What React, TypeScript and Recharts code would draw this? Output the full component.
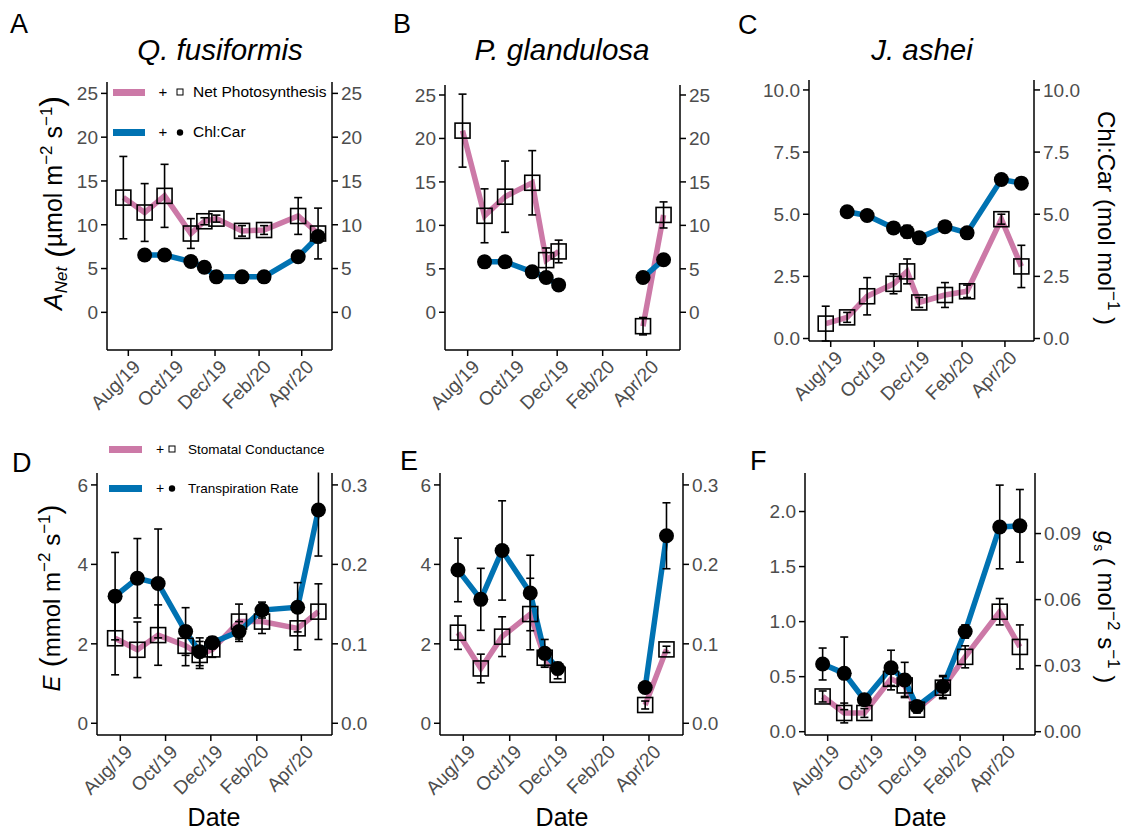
import * as React from 'react';
import { ComposedChart, Line, Scatter, XAxis, YAxis, ErrorBar } from 'recharts';

// sampling campaigns
const sampleDates = [
    '2019-07-25', '2019-08-24', '2019-09-21', '2019-10-28', '2019-11-16',
    '2019-12-03', '2020-01-08', '2020-02-08', '2020-03-27', '2020-04-24'
];
const tickDates = ['2019-08-01', '2019-10-01', '2019-12-01', '2020-02-01', '2020-04-01'];
const tickLabels = ['Aug/19', 'Oct/19', 'Dec/19', 'Feb/20', 'Apr/20'];

// Q. fusiformis
const qfAnet = [13.1, 11.4, 13.3, 9.0, 10.4, 10.7, 9.3, 9.4, 11.0, 9.0];
const qfAnetSe = [4.7, 3.3, 3.6, 1.7, 0.4, 0.4, 0.6, 0.5, 2.1, 2.9];
const qfChl = [null, 6.55, 6.55, 5.8, 5.15, 4.05, 4.05, 4.05, 6.35, 8.65];
const qfChlSe = [null, 0.2, 0.2, 0.2, 0.2, 0.2, 0.2, 0.2, 0.2, 0.2];
const qfE = [3.2, 3.65, 3.52, 2.31, 1.8, 2.03, 2.31, 2.85, 2.92, 5.37];
const qfESe = [1.1, 1.0, 1.37, 0.6, 0.35, 0.15, 0.25, 0.2, 0.62, 1.16];
const qfGs = [0.107, 0.0925, 0.111, 0.0975, 0.086, 0.093, 0.128, 0.128, 0.1195, 0.1405];
const qfGsSe = [0.046, 0.035, 0.038, 0.025, 0.017, 0.01, 0.022, 0.015, 0.027, 0.035];

// P. glandulosa (leafless in Jan/Feb)
const pgAnet = [20.9, 11.1, 13.3, 14.9, 6.0, 7.0, null, null, -1.6, 11.2];
const pgAnetSe = [4.2, 3.1, 4.1, 3.7, 1.4, 1.3, null, null, 1.0, 1.5];
const pgChl = [null, 5.8, 5.8, 4.65, 4.0, 3.15, null, null, 4.0, 6.05];
const pgChlSe = [null, 0.2, 0.2, 0.2, 0.2, 0.2, null, null, 0.2, 0.2];
const pgE = [3.86, 3.12, 4.35, 3.28, 1.76, 1.38, null, null, 0.9, 4.72];
const pgESe = [0.8, 0.78, 1.25, 0.95, 0.35, 0.15, null, null, 0.05, 0.83];
const pgGs = [0.114, 0.069, 0.109, 0.1375, 0.0825, 0.061, null, null, 0.023, 0.093];
const pgGsSe = [0.021, 0.018, 0.025, 0.045, 0.01, 0.005, null, null, 0.005, 0.004];

// J. ashei
const jaAnet = [0.6, 0.85, 1.7, 2.2, 2.7, 1.45, 1.75, 1.9, 4.8, 2.9];
const jaAnetSe = [0.7, 0.2, 0.75, 0.4, 0.5, 0.2, 0.5, 0.25, 0.2, 0.85];
const jaChl = [null, 5.1, 4.95, 4.45, 4.3, 4.05, 4.5, 4.25, 6.4, 6.25];
const jaChlSe = [null, 0.1, 0.1, 0.2, 0.25, 0.1, 0.1, 0.1, 0.15, 0.1];
const jaE = [0.615, 0.53, 0.29, 0.58, 0.47, 0.23, 0.41, 0.91, 1.86, 1.87];
const jaESe = [0.145, 0.33, 0.05, 0.16, 0.16, 0.03, 0.1, 0.06, 0.38, 0.33];
const jaGs = [0.016, 0.0085, 0.0085, 0.024, 0.021, 0.01, 0.02, 0.034, 0.0545, 0.0385];
const jaGsSe = [0.0025, 0.0045, 0.002, 0.005, 0.005, 0.0015, 0.005, 0.005, 0.006, 0.01];

const PINK = '#CC79A7';
const BLUE = '#0072B2';
const GREY = '#4D4D4D';
const FONT = '"Liberation Sans", Arial, Helvetica, sans-serif';
const DAY = 86400000;
const AUG1 = Date.parse('2019-08-01');

type Val = number | null;

const toRows = (vals: Val[], se: Val[]) =>
    sampleDates.map((d, i) => ({ t: Date.parse(d), v: vals[i], se: se[i] }));

const DateTick = (props: any) => {
    const { x, y, payload } = props;
    const i = tickDates.findIndex(d => Date.parse(d) === payload.value);
    const ax = x + 3;
    return (
        <text
            x={ax}
            y={y}
            dy="0.75em"
            transform={`rotate(-45 ${ax} ${y})`}
            textAnchor="end"
            fontSize={19}
            fill={GREY}
            fontFamily={FONT}
        >
            {tickLabels[i]}
        </text>
    );
};

const Square = (p: any) =>
    p.cx == null ? null : (
        <rect x={p.cx - 7.5} y={p.cy - 7.5} width={15} height={15} fill="none" stroke="#000" strokeWidth={1.6} />
    );
const Dot = (p: any) => (p.cx == null ? null : <circle cx={p.cx} cy={p.cy} r={7.5} fill="#000" />);

interface PanelProps {
    rect: number[];
    xDom: number[];
    lDom: number[];
    rDom: number[];
    lTicks: number[];
    rTicks: number[];
    lFmt: (v: number) => string;
    rFmt: (v: number) => string;
    pink: { vals: Val[]; se: Val[]; axis: string };
    blue: { vals: Val[]; se: Val[]; axis: string };
}

const axisLine = { stroke: '#000', strokeWidth: 1.5 };
const tickStyle = { fill: GREY, fontSize: 19, fontFamily: FONT };

const Panel = ({ rect, xDom, lDom, rDom, lTicks, rTicks, lFmt, rFmt, pink, blue }: PanelProps) => {
    const L = 70, R = 70, T = 12, B = 75;
    const w = rect[1] - rect[0] + L + R;
    const h = rect[3] - rect[2] + T + B;
    const pinkRows = toRows(pink.vals, pink.se);
    const blueRows = toRows(blue.vals, blue.se);
    return (
        <div style={{ position: 'absolute', left: rect[0] - L, top: rect[2] - T, width: w, height: h }}>
            <ComposedChart width={w} height={h} margin={{ top: T, right: 0, bottom: 0, left: 0 }}>
                <XAxis
                    dataKey="t"
                    type="number"
                    domain={[AUG1 + xDom[0] * DAY, AUG1 + xDom[1] * DAY]}
                    ticks={tickDates.map(d => Date.parse(d))}
                    interval={0}
                    tick={<DateTick />}
                    height={B}
                    allowDataOverflow
                    axisLine={axisLine}
                    tickLine={axisLine}
                    tickSize={6}
                    tickMargin={2}
                />
                <YAxis
                    yAxisId="l"
                    domain={lDom}
                    ticks={lTicks}
                    tickFormatter={lFmt}
                    interval={0}
                    width={L}
                    allowDataOverflow
                    axisLine={axisLine}
                    tickLine={axisLine}
                    tickSize={6}
                    tickMargin={3}
                    tick={tickStyle}
                />
                <YAxis
                    yAxisId="r"
                    orientation="right"
                    domain={rDom}
                    ticks={rTicks}
                    tickFormatter={rFmt}
                    interval={0}
                    width={R}
                    allowDataOverflow
                    axisLine={axisLine}
                    tickLine={axisLine}
                    tickSize={6}
                    tickMargin={3}
                    tick={{ ...tickStyle, textAnchor: 'start' }}
                />
                <Line
                    data={pinkRows}
                    yAxisId={pink.axis}
                    dataKey="v"
                    stroke={PINK}
                    strokeWidth={5.5}
                    dot={false}
                    activeDot={false}
                    connectNulls={false}
                    isAnimationActive={false}
                />
                <Line
                    data={blueRows}
                    yAxisId={blue.axis}
                    dataKey="v"
                    stroke={BLUE}
                    strokeWidth={5.5}
                    dot={false}
                    activeDot={false}
                    connectNulls={false}
                    isAnimationActive={false}
                />
                <Scatter
                    data={pinkRows.filter(r => r.v != null)}
                    yAxisId={pink.axis}
                    dataKey="v"
                    shape={Square}
                    isAnimationActive={false}
                >
                    <ErrorBar dataKey="se" direction="y" width={4} stroke="#000" strokeWidth={1.6} />
                </Scatter>
                <Scatter
                    data={blueRows.filter(r => r.v != null)}
                    yAxisId={blue.axis}
                    dataKey="v"
                    shape={Dot}
                    isAnimationActive={false}
                >
                    <ErrorBar dataKey="se" direction="y" width={4} stroke="#000" strokeWidth={1.6} />
                </Scatter>
            </ComposedChart>
        </div>
    );
};

const int = (v: number) => String(v);
const f1 = (v: number) => v.toFixed(1);
const f2 = (v: number) => v.toFixed(2);

const sup = { fontSize: 17 };

const Overlay = () => (
    <svg
        width={1128}
        height={834}
        style={{ position: 'absolute', left: 0, top: 0, pointerEvents: 'none' }}
        fontFamily={FONT}
    >
        {/* panel D's top error bar runs past the panel, hide the overflow */}
        <rect x={99} y={456} width={231} height={16.5} fill="#fff" />
        {/* panel letters */}
        <g fontSize={27} fill="#000">
            <text x={10} y={33}>A</text>
            <text x={393} y={33}>B</text>
            <text x={738} y={34}>C</text>
            <text x={12} y={472}>D</text>
            <text x={400} y={470}>E</text>
            <text x={750} y={470}>F</text>
        </g>
        {/* species titles */}
        <g fontSize={29.5} fontStyle="italic" textAnchor="middle" fill="#000">
            <text x={220} y={60}>Q. fusiformis</text>
            <text x={562} y={60}>P. glandulosa</text>
            <text x={922} y={60}>J. ashei</text>
        </g>
        {/* axis titles */}
        <text transform="translate(62 203) rotate(-90)" textAnchor="middle" fontSize={25} fill="#000">
            <tspan fontStyle="italic">A</tspan>
            <tspan fontStyle="italic" fontSize={17} dy={5}>Net</tspan>
            <tspan fontSize={32} dy={1}> (</tspan>
            <tspan dy={-6}>µmol m</tspan>
            <tspan {...sup} dy={-10}>−2</tspan>
            <tspan dy={10}> s</tspan>
            <tspan {...sup} dy={-10}>−1</tspan>
            <tspan fontSize={32} dy={10}>)</tspan>
        </text>
        <text transform="translate(60 598) rotate(-90)" textAnchor="middle" fontSize={24} fill="#000">
            <tspan fontStyle="italic">E</tspan>
            <tspan fontSize={30} dy={1}> (</tspan>
            <tspan dy={-1}>mmol m</tspan>
            <tspan {...sup} dy={-10}>−2</tspan>
            <tspan dy={10}> s</tspan>
            <tspan {...sup} dy={-10}>−1</tspan>
            <tspan fontSize={30} dy={10}>)</tspan>
        </text>
        <text transform="translate(1098 218) rotate(90)" textAnchor="middle" fontSize={24} fill="#000">
            <tspan>Chl:Car (mol mol</tspan>
            <tspan {...sup} dy={-10}>−1</tspan>
            <tspan dy={10}> )</tspan>
        </text>
        <text transform="translate(1098 607) rotate(90)" textAnchor="middle" fontSize={24} fill="#000">
            <tspan fontStyle="italic">g</tspan>
            <tspan fontSize={14} dy={4}>s</tspan>
            <tspan dy={-4}> ( mol</tspan>
            <tspan {...sup} dy={-10}>−2</tspan>
            <tspan dy={10}> s</tspan>
            <tspan {...sup} dy={-10}>−1</tspan>
            <tspan dy={10}> )</tspan>
        </text>
        <g fontSize={25} textAnchor="middle" fill="#000">
            <text x={214} y={826}>Date</text>
            <text x={562} y={826}>Date</text>
            <text x={920} y={826}>Date</text>
        </g>
        {/* legends */}
        <g fill="#000">
            <rect x={113} y={89} width={32} height={7} fill={PINK} />
            <text x={163} y={97} fontSize={15} textAnchor="middle">+</text>
            <rect x={177} y={89} width={6} height={6} fill="none" stroke="#000" strokeWidth={1} />
            <text x={193} y={97} fontSize={15.5}>Net Photosynthesis</text>
            <rect x={113} y={129} width={32} height={7} fill={BLUE} />
            <text x={163} y={137} fontSize={15} textAnchor="middle">+</text>
            <circle cx={180} cy={132.5} r={3.2} fill="#000" />
            <text x={193} y={137} fontSize={15.5}>Chl:Car</text>

            <rect x={109} y={446} width={33} height={7} fill={PINK} />
            <text x={160} y={454} fontSize={14} textAnchor="middle">+</text>
            <rect x={169} y={446} width={6} height={6} fill="none" stroke="#000" strokeWidth={1} />
            <text x={188} y={454} fontSize={13.5}>Stomatal Conductance</text>
            <rect x={109} y={485} width={33} height={7} fill={BLUE} />
            <text x={160} y={493} fontSize={14} textAnchor="middle">+</text>
            <circle cx={172} cy={488.5} r={3.2} fill="#000" />
            <text x={188} y={493} fontSize={13.5}>Transpiration Rate</text>
        </g>
    </svg>
);

const App = () => (
    <div style={{ position: 'absolute', left: 0, top: 0, width: 1128, height: 834, background: '#fff', fontFamily: FONT }}>
        <Panel
            rect={[107, 332, 82, 350]}
            xDom={[-30, 286.6]}
            lDom={[-4.3, 26.3]}
            rDom={[-4.3, 26.3]}
            lTicks={[0, 5, 10, 15, 20, 25]}
            rTicks={[0, 5, 10, 15, 20, 25]}
            lFmt={int}
            rFmt={int}
            pink={{ vals: qfAnet, se: qfAnetSe, axis: 'l' }}
            blue={{ vals: qfChl, se: qfChlSe, axis: 'r' }}
        />
        <Panel
            rect={[445, 680, 85, 350]}
            xDom={[-30.9, 289.4]}
            lDom={[-4.34, 26.15]}
            rDom={[-4.34, 26.15]}
            lTicks={[0, 5, 10, 15, 20, 25]}
            rTicks={[0, 5, 10, 15, 20, 25]}
            lFmt={int}
            rFmt={int}
            pink={{ vals: pgAnet, se: pgAnetSe, axis: 'l' }}
            blue={{ vals: pgChl, se: pgChlSe, axis: 'r' }}
        />
        <Panel
            rect={[809, 1034, 80, 341]}
            xDom={[-30.4, 284.7]}
            lDom={[-0.1, 10.4]}
            rDom={[-0.1, 10.4]}
            lTicks={[0, 2.5, 5, 7.5, 10]}
            rTicks={[0, 2.5, 5, 7.5, 10]}
            lFmt={f1}
            rFmt={f1}
            pink={{ vals: jaAnet, se: jaAnetSe, axis: 'l' }}
            blue={{ vals: jaChl, se: jaChlSe, axis: 'r' }}
        />
        <Panel
            rect={[97, 332, 473, 735]}
            xDom={[-31.4, 285.3]}
            lDom={[-0.295, 6.3]}
            rDom={[-0.01475, 0.315]}
            lTicks={[0, 2, 4, 6]}
            rTicks={[0, 0.1, 0.2, 0.3]}
            lFmt={int}
            rFmt={f1}
            pink={{ vals: qfGs, se: qfGsSe, axis: 'r' }}
            blue={{ vals: qfE, se: qfESe, axis: 'l' }}
        />
        <Panel
            rect={[440, 683, 473, 735]}
            xDom={[-30.6, 288.7]}
            lDom={[-0.295, 6.3]}
            rDom={[-0.01475, 0.315]}
            lTicks={[0, 2, 4, 6]}
            rTicks={[0, 0.1, 0.2, 0.3]}
            lFmt={int}
            rFmt={f1}
            pink={{ vals: pgGs, se: pgGsSe, axis: 'r' }}
            blue={{ vals: pgE, se: pgESe, axis: 'l' }}
        />
        <Panel
            rect={[805, 1035, 473, 735]}
            xDom={[-31.5, 288]}
            lDom={[-0.03, 2.35]}
            rDom={[-0.0015, 0.1175]}
            lTicks={[0, 0.5, 1, 1.5, 2]}
            rTicks={[0, 0.03, 0.06, 0.09]}
            lFmt={f1}
            rFmt={f2}
            pink={{ vals: jaGs, se: jaGsSe, axis: 'r' }}
            blue={{ vals: jaE, se: jaESe, axis: 'l' }}
        />
        <Overlay />
    </div>
);

export default App;
